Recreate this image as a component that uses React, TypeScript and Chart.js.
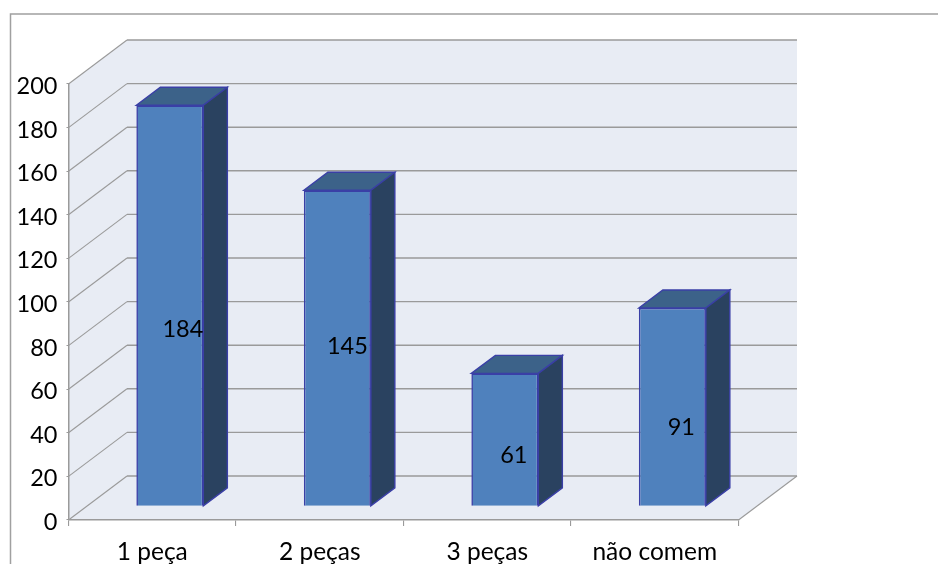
import React, { useEffect, useRef } from "react";
import { Chart, registerables } from "chart.js";

Chart.register(...registerables);

const categories = ["1 peça", "2 peças", "3 peças", "não comem"];
const seriesValues = [184, 145, 61, 91];
const yMax = 200;
const yStep = 20;

const WALL = "#E8ECF4";
const GRID = "#9A9A9A";
const FRAME = "#A0A0A0";
const FRONT = "#4F81BD";
const TOP = "#3C6289";
const SIDE = "#2A4260";
const EDGE = "#3A3FA6";
const FONT = "Lato, Carlito, sans-serif";

const WALL_DX = 58.5;
const WALL_DY = 44;
const BAR_SHIFT_X = 17.6;
const BAR_SHIFT_Y = 13.6;
const BAR_DX = 24;
const BAR_DY = 18;
const LABEL_NUDGE = [[13, 24], [10, -2], [9, 16], [9, 20]];

const box3d = {
  id: "box3d",
  beforeDraw(chart: any) {
    const { ctx, chartArea: a, scales } = chart;
    const y = scales.y;
    const pts = (p: number[][], fill: string) => {
      ctx.beginPath();
      p.forEach(([px, py], i) => (i ? ctx.lineTo(px, py) : ctx.moveTo(px, py)));
      ctx.closePath();
      ctx.fillStyle = fill;
      ctx.fill();
    };
    ctx.save();
    ctx.fillStyle = "#fff";
    ctx.fillRect(0, 0, chart.width, chart.height);
    // outer frame
    ctx.strokeStyle = FRAME;
    ctx.lineWidth = 1.5;
    ctx.beginPath();
    ctx.moveTo(10.5, chart.height);
    ctx.lineTo(10.5, 14);
    ctx.lineTo(chart.width, 14);
    ctx.stroke();
    // walls and floor
    const l = a.left, r = a.right, t = a.top, b = a.bottom;
    pts([[l + WALL_DX, t - WALL_DY], [r + WALL_DX, t - WALL_DY], [r + WALL_DX, b - WALL_DY], [l + WALL_DX, b - WALL_DY]], WALL);
    pts([[l, t], [l + WALL_DX, t - WALL_DY], [l + WALL_DX, b - WALL_DY], [l, b]], WALL);
    pts([[l, b], [l + WALL_DX, b - WALL_DY], [r + WALL_DX, b - WALL_DY], [r, b]], WALL);
    // gridlines
    ctx.strokeStyle = GRID;
    y.ticks.forEach((tick: any) => {
      const py = y.getPixelForValue(tick.value);
      ctx.lineWidth = 1.1;
      ctx.beginPath();
      ctx.moveTo(l, py);
      ctx.lineTo(l + WALL_DX, py - WALL_DY);
      ctx.stroke();
      ctx.lineWidth = 1.4;
      ctx.beginPath();
      ctx.moveTo(l + WALL_DX, py - WALL_DY);
      ctx.lineTo(r + WALL_DX, py - WALL_DY);
      ctx.stroke();
    });
    ctx.lineWidth = 1.1;
    ctx.beginPath();
    ctx.moveTo(r, b);
    ctx.lineTo(r + WALL_DX, b - WALL_DY);
    ctx.stroke();
    ctx.restore();
  },
  beforeDatasetDraw(chart: any) {
    chart.ctx.save();
    chart.ctx.translate(BAR_SHIFT_X, -BAR_SHIFT_Y);
  },
  afterDatasetDraw(chart: any, args: any) {
    const { ctx } = chart;
    const bars = chart.getDatasetMeta(args.index).data;
    bars.forEach((bar: any) => {
      const half = bar.width / 2;
      const x0 = bar.x - half, x1 = bar.x + half;
      const face = (p: number[][], fill: string) => {
        ctx.beginPath();
        p.forEach(([px, py], i) => (i ? ctx.lineTo(px, py) : ctx.moveTo(px, py)));
        ctx.closePath();
        ctx.fillStyle = fill;
        ctx.fill();
        ctx.strokeStyle = EDGE;
        ctx.lineWidth = 1.4;
        ctx.stroke();
      };
      face([[x0, bar.y], [x0 + BAR_DX, bar.y - BAR_DY], [x1 + BAR_DX, bar.y - BAR_DY], [x1, bar.y]], TOP);
      face([[x1, bar.y], [x1 + BAR_DX, bar.y - BAR_DY], [x1 + BAR_DX, bar.base - BAR_DY], [x1, bar.base]], SIDE);
    });
    ctx.fillStyle = "#000";
    ctx.font = `23.5px ${FONT}`;
    ctx.textAlign = "center";
    ctx.textBaseline = "middle";
    bars.forEach((bar: any, i: number) => {
      const [nx, ny] = LABEL_NUDGE[i];
      ctx.fillText(String(seriesValues[i]), bar.x + nx, (bar.y + bar.base) / 2 + ny);
    });
    ctx.restore();
  },
};

export default function App() {
  const ref = useRef<HTMLCanvasElement>(null);
  useEffect(() => {
    const chart = new Chart(ref.current!, {
      type: "bar",
      data: {
        labels: categories,
        datasets: [
          {
            data: seriesValues,
            backgroundColor: FRONT,
            borderColor: EDGE,
            borderWidth: 1.6,
            barPercentage: 0.4,
            categoryPercentage: 1,
            clip: false,
          } as any,
        ],
      },
      options: {
        animation: false,
        responsive: false,
        layout: { padding: { left: 0, top: 84, right: 199.5, bottom: 0 } },
        plugins: { legend: { display: false }, title: { display: false }, tooltip: { enabled: false } },
        scales: {
          x: {
            grid: { drawOnChartArea: false, color: GRID, tickLength: 6, lineWidth: 1.1 },
            border: { color: GRID, width: 1.5 },
            ticks: { color: "#000", font: { family: FONT, size: 24.5 }, padding: 11, maxRotation: 0, autoSkip: false },
            afterFit: (s: any) => { s.height = 44; },
          },
          y: {
            min: 0,
            max: yMax,
            grid: { drawOnChartArea: false, color: GRID, tickLength: 2, lineWidth: 1.1 },
            border: { color: GRID, width: 1.5 },
            ticks: { color: "#000", stepSize: yStep, font: { family: FONT, size: 23.5 }, padding: 9, labelOffset: 2.5 },
            afterFit: (s: any) => { s.width = 68.5; },
          },
        },
      },
      plugins: [box3d],
    } as any);
    return () => chart.destroy();
  }, []);
  return (
    <div style={{ position: "absolute", left: 0, top: 0, width: 938, height: 564, background: "#fff" }}>
      <canvas ref={ref} width={938} height={564} style={{ display: "block", width: 938, height: 564 }} />
    </div>
  );
}
